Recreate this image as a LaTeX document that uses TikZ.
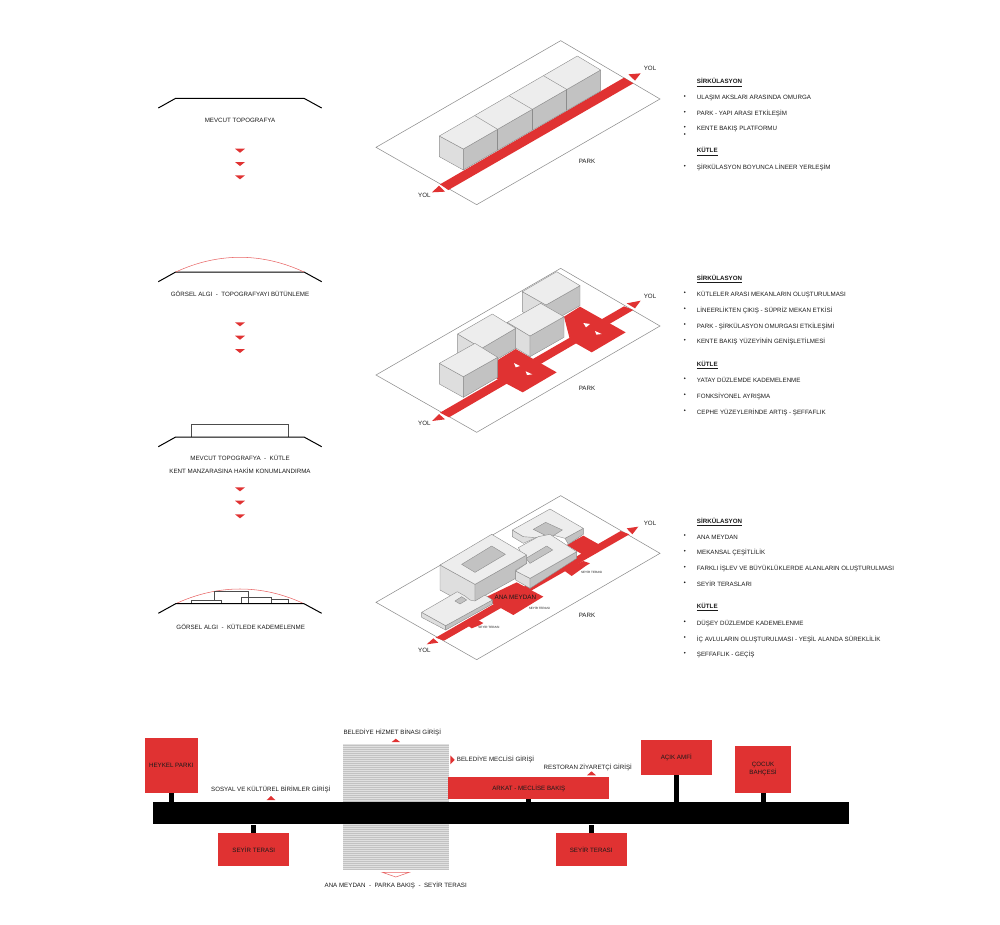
\documentclass[tikz,border=0pt]{standalone}
\usepackage{fontspec}
\setmainfont{Liberation Sans}
\definecolor{kirmizi}{HTML}{E03232}
\definecolor{yazi}{HTML}{1A1A1A}
\definecolor{ust}{HTML}{EDEDED}
\definecolor{sol}{HTML}{DEDEDE}
\definecolor{sag}{HTML}{C2C2C2}
\tikzset{
txt/.style={text=yazi,inner sep=0pt,align=center,font=\fontsize{4.65}{9.7}\selectfont},
head/.style={txt,anchor=west,font=\fontsize{4.65}{6}\selectfont\bfseries},
item/.style={txt,anchor=west},
dot/.style={fill=yazi},
ok/.style={fill=kirmizi},
topo/.style={draw=black,line width=0.75pt},
arc/.style={draw=kirmizi!75,line width=0.4pt},
mass/.style={draw=black!70,line width=0.4pt},
plane/.style={draw=black!45,line width=0.4pt},
yol/.style={fill=kirmizi},
topf/.style={fill=ust,draw=black!45,line width=0.3pt,line join=round},
leftf/.style={fill=sol,draw=black!45,line width=0.3pt,line join=round},
rightf/.style={fill=sag,draw=black!45,line width=0.3pt,line join=round},
hole/.style={fill=sag,draw=black!45,line width=0.3pt},
redbox/.style={fill=kirmizi,text=yazi,inner sep=0pt,align=center,
    font=\fontsize{4.65}{6.2}\selectfont},
bar/.style={fill=black,inner sep=0pt},
stem/.style={draw=black,line width=3.75pt},
tiny/.style={txt,font=\fontsize{2.3}{3}\selectfont}
}
\begin{document}
\begin{tikzpicture}[x=0.75pt,y=-0.75pt]
\useasboundingbox (0,0) rectangle (1000,925);

\draw[topo] (158.3,108) -- (175.7,98.3) -- (304,98.3) -- (321.7,108);
\node[txt] (mevcut) at (240,120.7) {MEVCUT TOPOGRAFYA};
\draw[topo] (158.3,281.7) -- (175.7,272) -- (304,272) -- (321.7,281.7);
\draw[arc] (175.7,272) .. controls (218,252.4) and (262,252.4) .. (304,272);
\node[txt] (gorsel) at (240,293.7) {GÖRSEL ALGI \ - \ TOPOGRAFYAYI BÜTÜNLEME};
\draw[mass] (191.3,437) -- (191.3,424.7) -- (288.3,424.7) -- (288.3,437);
\draw[topo] (158.3,446.7) -- (175.7,437) -- (304,437) -- (321.7,446.7);
\node[txt] (kutle) at (240,464) {MEVCUT TOPOGRAFYA \ - \ KÜTLE\\KENT MANZARASINA HAKİM KONUMLANDIRMA};
\draw[arc] (175.7,603.7) .. controls (218,584.1) and (262,584.1) .. (304,603.7);
\draw[mass] (191.3,603.7) -- (191.3,600.7) -- (214.3,600.7) -- (214.3,591.3) -- (248.3,591.3) -- (248.3,603.7);
\draw[mass] (214.3,600.7) -- (221.7,600.7) -- (221.7,603.7);
\draw[mass] (241.3,603.7) -- (241.3,597.3) -- (271.7,597.3) -- (271.7,603.7);
\draw[mass] (271.7,599.3) -- (288.3,599.3) -- (288.3,603.7);
\draw[topo] (158.3,613.3) -- (175.7,603.7) -- (304,603.7) -- (321.7,613.3);
\node[txt] (kademe) at (240.7,627.3) {GÖRSEL ALGI \ - \ KÜTLEDE KADEMELENME};
\foreach \y in {148.7,162,175.3,322.3,335.7,349,487.3,500.7,514.3}
    \fill[ok] (235,\y) -- (245,\y) -- (240,\y+4) -- cycle;

\begin{scope}[shift={(370,30)},x=0.25pt,y=-0.25pt]
\draw[plane] (572,32) -- (870,207) -- (320,524) -- (18,352) -- cycle;
\fill[yol] (210,463) -- (235,480) -- (790,160) -- (762,143) -- cycle;
\fill[yol] (775,133) -- (812,130) -- (795,152) -- cycle;
\fill[yol] (186,487) -- (225,485) -- (207,467) -- cycle;
\draw[leftf] (208,318) -- (280,357) -- (280,420) -- (208,380) -- cycle;
\draw[rightf] (280,357) -- (692,120) -- (692,183) -- (280,420) -- cycle;
\draw[topf] (208,318) -- (622,78) -- (692,120) -- (280,357) -- cycle;
\draw[topf] (315,257) -- (383,298);
\draw[topf] (417,197) -- (487,238);
\draw[topf] (520,137) -- (590,178);
\draw[rightf] (383,298) -- (383,361);
\draw[rightf] (487,238) -- (487,301);
\draw[rightf] (590,178) -- (590,241);
\node[txt] (yola) at (840,116) {YOL};
\node[txt] (yolb) at (163,497) {YOL};
\node[txt] (parka) at (651,393) {PARK};
\end{scope}

\begin{scope}[shift={(370,260)},x=0.25pt,y=-0.25pt]
\draw[plane] (572,25) -- (870,198) -- (320,517) -- (18,345) -- cycle;
\fill[yol] (210,458) -- (237,472) -- (790,150) -- (762,139) -- cycle;
\fill[yol] (770,130) -- (812,122) -- (795,145) -- cycle;
\fill[yol] (186,483) -- (225,478) -- (207,462) -- cycle;
\fill[yol] (383,300) -- (437,267) -- (560,337) -- (458,397) -- (370,350) -- cycle;
\fill[yol] (582,170) -- (630,140) -- (767,217) -- (665,277) -- (600,240) -- cycle;
\fill[white] (432,309) -- (450,318) -- (437,322) -- cycle;
\fill[white] (467,334) -- (487,343) -- (471,345) -- cycle;
\fill[white] (640,189) -- (660,192) -- (648,202) -- cycle;
\fill[white] (675,213) -- (695,222) -- (679,224) -- cycle;
\draw[leftf] (457,95) -- (528,135) -- (528,195) -- (457,155) -- cycle;
\draw[rightf] (528,135) -- (630,77) -- (630,137) -- (528,195) -- cycle;
\draw[topf] (457,95) -- (560,35) -- (630,77) -- (528,135) -- cycle;
\draw[leftf] (412,187) -- (480,228) -- (480,290) -- (412,249) -- cycle;
\draw[rightf] (480,228) -- (582,170) -- (582,232) -- (480,290) -- cycle;
\draw[topf] (412,187) -- (512,130) -- (582,170) -- (480,228) -- cycle;
\draw[leftf] (263,222) -- (335,265) -- (335,325) -- (263,282) -- cycle;
\draw[rightf] (335,265) -- (437,205) -- (437,265) -- (335,325) -- cycle;
\draw[topf] (263,222) -- (367,162) -- (437,205) -- (335,265) -- cycle;
\draw[leftf] (208,310) -- (280,350) -- (280,412) -- (208,372) -- cycle;
\draw[rightf] (280,350) -- (383,292) -- (383,352) -- (280,412) -- cycle;
\draw[topf] (208,310) -- (315,250) -- (383,292) -- (280,350) -- cycle;
\node[txt] (yolc) at (840,110) {YOL};
\node[txt] (yold) at (163,490) {YOL};
\node[txt] (parkb) at (651,386) {PARK};
\end{scope}

\begin{scope}[shift={(370,495)},x=0.25pt,y=-0.25pt]
\draw[plane] (572,2) -- (870,175) -- (320,494) -- (18,322) -- cycle;
\fill[yol] (197,428) -- (222,437) -- (778,118) -- (752,108) -- cycle;
\fill[yol] (770,100) -- (805,95) -- (787,118) -- cycle;
\fill[yol] (170,448) -- (205,443) -- (190,430) -- cycle;
\fill[yol] (340,310) -- (440,262) -- (520,305) -- (430,360) -- (385,335) -- (367,325) -- cycle;
\fill[yol] (590,150) -- (640,122) -- (690,150) -- (640,180) -- cycle;
\fill[yol] (580,225) -- (640,198) -- (660,205) -- (647,213) -- (605,243) -- cycle;
\fill[yol] (285,385) -- (325,376) -- (340,384) -- (330,390) -- (305,400) -- cycle;
\draw[leftf] (427,105) -- (460,125) -- (505,120) -- (505,125) -- (460,145) -- (427,125) -- cycle;
\draw[rightf] (585,130) -- (640,100) -- (640,118) -- (595,148) -- cycle;
\draw[topf] (427,105) -- (540,42) -- (640,100) -- (585,130) -- (540,118) -- (500,128) -- (460,125) -- cycle;
\draw[hole] (490,103) -- (527,82) -- (577,105) -- (540,128) -- cycle;
\draw[leftf] (437,228) -- (480,250) -- (480,280) -- (437,255) -- cycle;
\draw[rightf] (480,250) -- (620,170) -- (620,190) -- (480,280) -- cycle;
\draw[topf] (445,158) -- (505,125) -- (540,118) -- (620,170) -- (480,250) -- (437,228) -- (470,205) -- cycle;
\draw[hole] (468,190) -- (530,153) -- (548,165) -- (480,205) -- cycle;
\draw[leftf] (210,210) -- (315,268) -- (315,343) -- (210,285) -- cycle;
\draw[rightf] (315,268) -- (470,180) -- (470,205) -- (437,225) -- (437,250) -- (315,318) -- cycle;
\draw[topf] (210,210) -- (365,118) -- (470,180) -- (315,268) -- cycle;
\draw[hole] (275,208) -- (365,153) -- (406,178) -- (315,232) -- cycle;
\draw[leftf] (155,352) -- (227,392) -- (227,405) -- (155,367) -- cycle;
\draw[rightf] (227,392) -- (367,315) -- (367,327) -- (227,405) -- cycle;
\draw[topf] (155,352) -- (262,290) -- (285,303) -- (300,315) -- (315,318) -- (345,300) -- (367,315) -- (227,392) -- cycle;
\draw[hole] (255,318) -- (275,305) -- (290,315) -- (270,327) -- cycle;
\node[txt,font=\fontsize{4.7}{6}\selectfont] (meydan) at (436,308) {ANA MEYDAN};
\node[tiny] (terasa) at (665,233) {SEYİR TERASI};
\node[tiny] (terasb) at (508,341) {SEYİR TERASI};
\node[tiny] (terasc) at (357,397) {SEYİR TERASI};
\node[txt] (yole) at (840,86) {YOL};
\node[txt] (yolf) at (163,467) {YOL};
\node[txt] (parkc) at (651,362) {PARK};
\end{scope}

\foreach \y in {96,111.7,126.7,134,165.7,292.3,308.3,324,339.7,378.3,394.3,410.3,535,550.7,566.7,582.3,621.3,637,652.7}
    \fill[dot] (684.7,\y) circle (0.9);
\node[head] (sirka) at (696.7,82.7) {\underline{SİRKÜLASYON}};
\node[item] (a1) at (696.7,98) {ULAŞIM AKSLARI ARASINDA OMURGA};
\node[item] (a2) at (696.7,113.7) {PARK - YAPI ARASI ETKİLEŞİM};
\node[item] (a3) at (696.7,128.7) {KENTE BAKIŞ PLATFORMU};
\node[head] (kutla) at (696.7,151.7) {\underline{KÜTLE}};
\node[item] (a4) at (696.7,167.3) {ŞİRKÜLASYON BOYUNCA LİNEER YERLEŞİM};
\node[head] (sirkb) at (696.7,279) {\underline{SİRKÜLASYON}};
\node[item] (b1) at (696.7,294.3) {KÜTLELER ARASI MEKANLARIN OLUŞTURULMASI};
\node[item] (b2) at (696.7,310.3) {LİNEERLİKTEN ÇIKIŞ - SÜPRİZ MEKAN ETKİSİ};
\node[item] (b3) at (696.7,326) {PARK - ŞİRKÜLASYON OMURGASI ETKİLEŞİMİ};
\node[item] (b4) at (696.7,341.7) {KENTE BAKIŞ YÜZEYİNİN GENİŞLETİLMESİ};
\node[head] (kutlb) at (696.7,365) {\underline{KÜTLE}};
\node[item] (b5) at (696.7,380.3) {YATAY DÜZLEMDE KADEMELENME};
\node[item] (b6) at (696.7,396.3) {FONKSİYONEL AYRIŞMA};
\node[item] (b7) at (696.7,412.3) {CEPHE YÜZEYLERİNDE ARTIŞ - ŞEFFAFLIK};
\node[head] (sirkc) at (696.7,522.3) {\underline{SİRKÜLASYON}};
\node[item] (c1) at (696.7,537) {ANA MEYDAN};
\node[item] (c2) at (696.7,552.7) {MEKANSAL ÇEŞİTLİLİK};
\node[item] (c3) at (696.7,568.7) {FARKLI İŞLEV VE BÜYÜKLÜKLERDE ALANLARIN OLUŞTURULMASI};
\node[item] (c4) at (696.7,584.3) {SEYİR TERASLARI};
\node[head] (kutlc) at (696.7,607.3) {\underline{KÜTLE}};
\node[item] (c5) at (696.7,623.3) {DÜŞEY DÜZLEMDE KADEMELENME};
\node[item] (c6) at (696.7,639) {İÇ AVLULARIN OLUŞTURULMASI - YEŞİL ALANDA SÜREKLİLİK};
\node[item] (c7) at (696.7,654.7) {ŞEFFAFLIK - GEÇİŞ};

\fill[black!12] (343,744) rectangle (448.7,870);
\foreach \y in {745,747,...,869}
    \draw[black!24,line width=0.4pt] (343,\y) -- (448.7,\y);
\node[bar,minimum width=522pt,minimum height=16.5pt] (omurga) at (501.3,813.3) {};
\node[redbox,minimum width=39.75pt,minimum height=41pt] (heykel) at (171.2,765.7) {HEYKEL PARKI};
\node[redbox,minimum width=53.25pt,minimum height=24.75pt] (terasd) at (253.8,849.8) {SEYİR TERASI};
\node[redbox,minimum width=120.75pt,minimum height=16.5pt] (arkat) at (528.8,788) {ARKAT - MECLİSE BAKIŞ};
\node[redbox,minimum width=53pt,minimum height=26.25pt] (amfi) at (676.3,757.5) {AÇIK AMFİ};
\node[redbox,minimum width=42pt,minimum height=35.5pt] (cocuk) at (763,769.3) {ÇOCUK\\BAHÇESİ};
\node[redbox,minimum width=53.25pt,minimum height=24.75pt] (terase) at (591.2,849.8) {SEYİR TERASI};
\draw[stem] (heykel.south) -- (heykel.south |- omurga.north);
\draw[stem] (terasd.north) -- (terasd.north |- omurga.south);
\draw[stem] (arkat.south) -- (arkat.south |- omurga.north);
\draw[stem] (amfi.south) -- (amfi.south |- omurga.north);
\draw[stem] (cocuk.south) -- (cocuk.south |- omurga.north);
\draw[stem] (terase.north) -- (terase.north |- omurga.south);
\fill[ok] (391.7,742) -- (400,742) -- (395.8,738.7) -- cycle;
\fill[ok] (450.3,755.3) -- (454.7,759.8) -- (450.3,764.3) -- cycle;
\fill[ok] (266.7,800) -- (275.3,800) -- (271,796) -- cycle;
\fill[ok] (587,775.3) -- (596,775.3) -- (591.5,771.3) -- cycle;
\draw[arc] (382.3,872.3) -- (409.3,872.3) -- (395.8,877) -- cycle;
\node[txt] (hizmet) at (392.3,732) {BELEDİYE HİZMET BİNASI GİRİŞİ};
\node[txt,anchor=west] (meclis) at (456.7,759.7) {BELEDİYE MECLİSİ GİRİŞİ};
\node[txt] (restoran) at (587.8,767) {RESTORAN ZİYARETÇİ GİRİŞİ};
\node[txt] (sosyal) at (270.8,789.7) {SOSYAL VE KÜLTÜREL BİRİMLER GİRİŞİ};
\node[txt] (bakis) at (395.7,885.3) {ANA MEYDAN \ - \ PARKA BAKIŞ \ - \ SEYİR TERASI};
\end{tikzpicture}
\end{document}
